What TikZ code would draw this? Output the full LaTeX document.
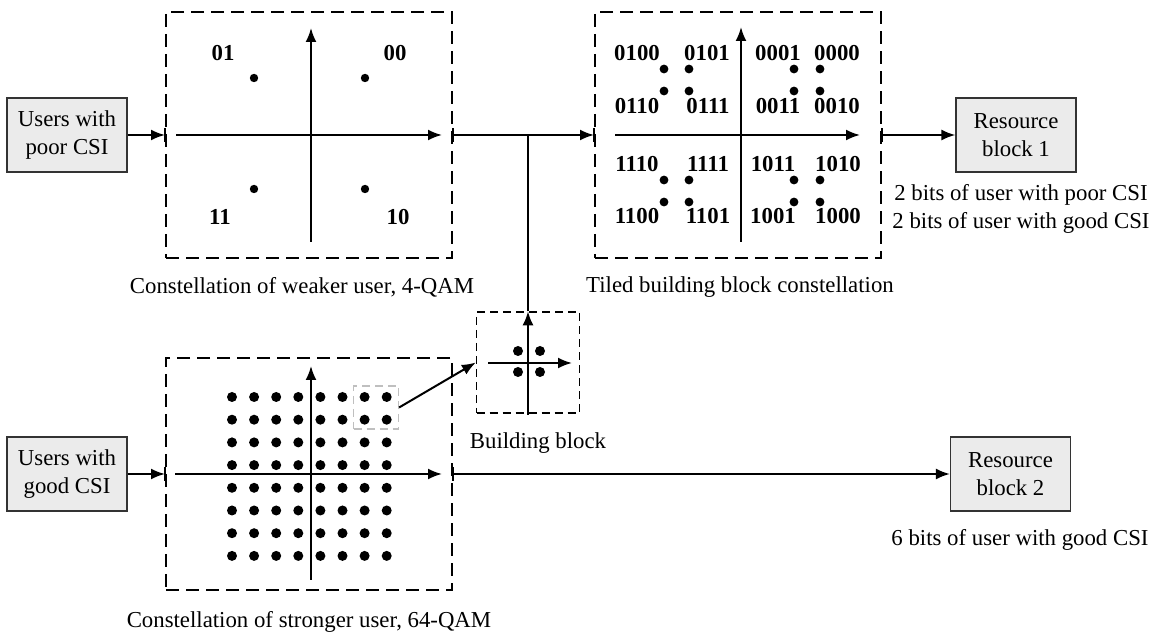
\documentclass[tikz,border=0pt]{standalone}
\usepackage{fontspec}
\setmainfont{Liberation Serif}
\usetikzlibrary{arrows.meta}
\begin{document}
\begin{tikzpicture}[x=0.5pt,y=-0.5pt,
  every node/.style={font=\fontsize{11.4}{13.8}\selectfont},
  gbox/.style={draw=black!80, fill=black!8, line width=0.6pt, minimum width=60pt, minimum height=37pt, align=center, inner sep=0pt},
  dbox/.style={draw, line width=1pt, dash pattern=on 6.5pt off 3.5pt, inner sep=0pt},
  tbox/.style={draw, line width=0.65pt, dash pattern=on 4pt off 2.5pt, inner sep=0pt},
  selbox/.style={draw=black!25, line width=0.6pt, dash pattern=on 4pt off 2.5pt, inner sep=0pt},
  axisarr/.style={line width=1pt, -{Latex[length=7pt,width=5.5pt]}},
  conn/.style={line width=1pt, -{Latex[length=7pt,width=5.5pt]}},
  plainline/.style={line width=1pt},
  lbl/.style={font=\fontsize{11.4}{13.8}\selectfont\bfseries, inner sep=0pt},
  captxt/.style={inner sep=0pt, align=center},
  ]
\useasboundingbox (0,0) rectangle (1158,635);

% grey boxes
\node[gbox] (poor) at (67,135) {Users with\\poor CSI};
\node[gbox] (good) at (67,474) {Users with\\good CSI};
\node[gbox] (rb1) at (1016,135) {Resource\\block 1};
\node[gbox] (rb2) at (1010.5,474) {Resource\\block 2};

% dashed frames
\node[dbox, minimum width=143pt, minimum height=123pt] (q4) at (309,135) {};
\node[dbox, minimum width=143pt, minimum height=123pt] (tiled) at (738,135) {};
\node[dbox, minimum width=143pt, minimum height=116pt] (q64) at (309,474) {};
\node[tbox, minimum width=51.5pt, minimum height=50.5pt] (bb) at (528,362.5) {};
\node[selbox, minimum width=22.5pt, minimum height=21.5pt] (sel) at (376,407.5) {};

% 4-QAM
\draw[axisarr] (176,135) -- (442,135);
\draw[axisarr] (311,242) -- (311,28);
\foreach \x/\y in {254/78,365/78,254/189,365/189} \fill (\x,\y) circle[radius=2.1pt];
\node[lbl] (l01) at (223,53) {01};
\node[lbl] (l00) at (395,53) {00};
\node[lbl] (l11) at (220,217) {11};
\node[lbl] (l10) at (398,217) {10};

% tiled
\draw[axisarr] (615,135) -- (860,135);
\draw[axisarr] (741,242) -- (741,27);
\foreach \x in {664,689,794,820} \foreach \y in {69,91,180,202} \fill (\x,\y) circle[radius=2.2pt];
\node[lbl] (t1) at (637,53) {0100};
\node[lbl] (t2) at (707,53) {0101};
\node[lbl] (t3) at (778,53) {0001};
\node[lbl] (t4) at (837,53) {0000};
\node[lbl] (t5) at (637,106) {0110};
\node[lbl] (t6) at (708,106) {0111};
\node[lbl] (t7) at (778,106) {0011};
\node[lbl] (t8) at (837,106) {0010};
\node[lbl] (t9) at (637,164) {1110};
\node[lbl] (t10) at (708,164) {1111};
\node[lbl] (t11) at (773,164) {1011};
\node[lbl] (t12) at (838,164) {1010};
\node[lbl] (t13) at (637,216) {1100};
\node[lbl] (t14) at (708,216) {1101};
\node[lbl] (t15) at (773,216) {1001};
\node[lbl] (t16) at (838,216) {1000};

% 64-QAM
\draw[axisarr] (175,474) -- (442,474);
\draw[axisarr] (311,580) -- (311,366);
\foreach \i in {0,...,7} \foreach \j in {0,...,7} \fill ({232+22.1*\i},{397+22.7*\j}) circle[radius=2.5pt];

% building block
\draw[axisarr] (488,363) -- (572,363);
\draw[axisarr] (528,415) -- (bb.north);
\foreach \x/\y in {518/351,540/351,518/372,540/372} \fill (\x,\y) circle[radius=2.5pt];

% connectors
\coordinate (j) at (bb.north |- q4.east);
\draw[conn] (poor.east) -- (q4.west);
\draw[conn] (q4.east) -- (tiled.west);
\draw[plainline] (bb.north) -- (j);
\draw[conn] (tiled.east) -- (rb1.west);
\draw[conn] (good.east) -- (q64.west);
\draw[conn] (q64.east) -- (rb2.west);
\draw[conn] (sel.east) -- (bb.west);
\foreach \n in {q4.west,q4.east,tiled.west,tiled.east,q64.west,q64.east}
  \draw[plainline] ([yshift=-3.5pt]\n) -- ([yshift=3.5pt]\n);

% captions
\node[captxt] (c1) at (302,287) {Constellation of weaker user, 4-QAM};
\node[captxt] (c2) at (309,622) {Constellation of stronger user, 64-QAM};
\node[captxt] (c3) at (740,287) {Tiled building block constellation};
\node[captxt] (c4) at (538,443) {Building block};
\node[captxt, font=\fontsize{11.4}{14}\selectfont] (c5) at (1021,209) {2 bits of user with poor CSI\\2 bits of user with good CSI};
\node[captxt] (c6) at (1020,540) {6 bits of user with good CSI};
\end{tikzpicture}
\end{document}
